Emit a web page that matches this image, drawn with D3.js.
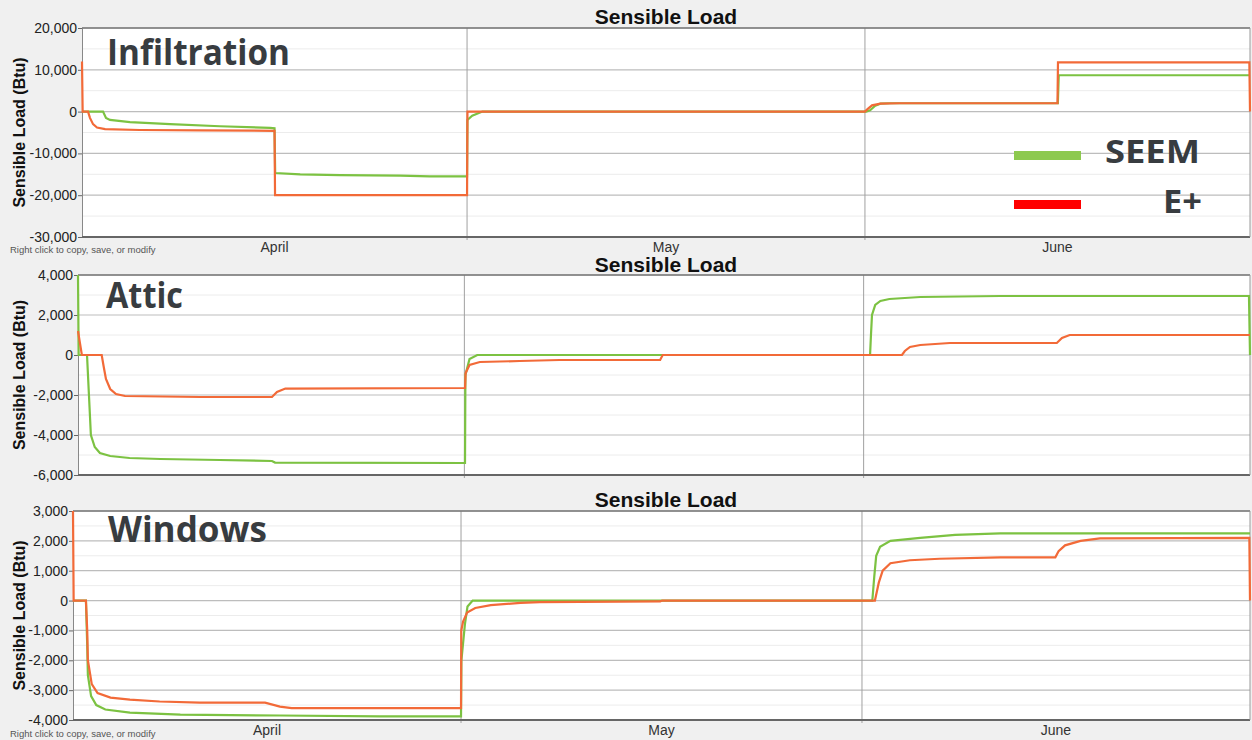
<!DOCTYPE html>
<html>
<head>
<meta charset="utf-8">
<script src="https://cdn.jsdelivr.net/npm/d3@7"></script>
<style>
  html, body { margin: 0; padding: 0; background: #f0f0f0; }
  svg { display: block; }
</style>
</head>
<body>
<svg id="chart" width="1252" height="740"></svg>
<script>
// ---------- DATA (x = days since April 1, y = Btu) ----------
const months = ["April", "May", "June"];
const monthDays = [30, 31, 30];
const panelNames = ["Infiltration", "Attic", "Windows"];
const seriesNames = ["SEEM", "E+"];

const infTicks = [20000, 10000, 0, -10000, -20000, -30000];
const atticTicks = [4000, 2000, 0, -2000, -4000, -6000];
const winTicks = [3000, 2000, 1000, 0, -1000, -2000, -3000, -4000];

const infSeem = [[0,0],[1.64,0],[1.87,-1500],[2.18,-2000],[3.74,-2500],[6.86,-3000],[10.75,-3500],[14.65,-3900],[15.0,-4000],
  [15.05,-14700],[17.0,-15000],[20.1,-15200],[24.8,-15300],[27.1,-15500],[30.0,-15500],[30.03,-2000],[30.4,-1000],[31.2,0],
  [61.1,0],[61.4,300],[61.8,1400],[62.2,1900],[63.0,2000],[76.03,2000],[76.1,8700],[91,8700]];
const infEplus = [[0,12000],[0.05,0],[0.47,0],[0.62,-1500],[0.86,-3000],[1.17,-3800],[1.8,-4200],[4.5,-4400],[9.2,-4500],[15.0,-4600],
  [15.04,-20000],[30.0,-20000],[30.03,0],[61.0,0],[61.2,600],[61.55,1500],[62.2,1900],[63.7,2000],[76.0,2000],[76.04,11800],
  [90.95,11800],[91,0]];

const atticSeem = [[0,4000],[0.05,0],[0.7,0],[0.85,-2000],[1.0,-4000],[1.3,-4600],[1.7,-4900],[2.5,-5050],[4.0,-5150],[6.4,-5200],
  [11.0,-5250],[15.06,-5300],[15.3,-5380],[30.05,-5400],[30.08,-1000],[30.4,-200],[31.0,0],[61.5,0],[61.57,1000],[61.65,2000],
  [61.9,2500],[62.3,2700],[63.0,2800],[65.4,2900],[71.6,2950],[90.92,2950],[91,0]];
const atticEplus = [[0,1200],[0.15,600],[0.3,0],[1.84,0],[2.0,-600],[2.17,-1200],[2.5,-1700],[2.95,-1950],[3.65,-2050],[9.5,-2100],
  [15.06,-2100],[15.45,-1850],[16.1,-1680],[30.05,-1650],[30.1,-900],[30.4,-500],[31.2,-350],[34.3,-300],[37.4,-250],[45.2,-250],
  [45.4,0],[63.98,0],[64.2,200],[64.6,400],[65.4,500],[67.7,600],[76.0,600],[76.4,850],[77.0,1000],[91,1000]];

const winSeem = [[0,0],[1.0,0],[1.1,-1500],[1.15,-2500],[1.4,-3200],[1.8,-3500],[2.5,-3650],[4.4,-3750],[8.3,-3820],[16.0,-3850],
  [23.7,-3880],[30.0,-3880],[30.03,-2000],[30.3,-800],[30.5,-200],[30.9,0],[61.8,0],[61.95,800],[62.1,1500],[62.4,1800],
  [63.2,2000],[65.5,2100],[68.2,2200],[71.7,2250],[91,2250]];
const winEplus = [[0,3000],[0.05,0],[1.0,0],[1.1,-1000],[1.15,-2000],[1.45,-2800],[1.9,-3100],[2.9,-3250],[4.4,-3320],[6.7,-3380],
  [9.8,-3420],[14.85,-3420],[16.0,-3550],[16.9,-3600],[30.0,-3600],[30.02,-1000],[30.16,-700],[30.47,-400],[31.1,-250],[32.3,-150],
  [34.6,-80],[36.1,-50],[45.4,-30],[45.55,0],[62.0,0],[62.3,600],[62.6,1000],[63.2,1250],[64.7,1350],[67.0,1400],[71.7,1450],
  [75.95,1450],[76.2,1650],[76.7,1850],[77.9,2000],[79.4,2080],[90.95,2100],[91,0]];

// ---------- LAYOUT ----------
const panels = [
  { name: panelNames[0], ticks: infTicks, minorStep: 5000, seem: infSeem, eplus: infEplus,
    left: 82, right: 1250, top: 28, bottom: 237, titleY: 24, labelX: 107, labelY: 65, monthY: 252, note: 253, showMonths: true, legend: true },
  { name: panelNames[1], ticks: atticTicks, minorStep: 1000, seem: atticSeem, eplus: atticEplus,
    left: 78, right: 1250, top: 275, bottom: 475, titleY: 272, labelX: 106, labelY: 308, monthY: null, note: null, showMonths: false },
  { name: panelNames[2], ticks: winTicks, minorStep: 500, seem: winSeem, eplus: winEplus,
    left: 73, right: 1250, top: 511, bottom: 720, titleY: 507, labelX: 108, labelY: 542, monthY: 735, note: 737, showMonths: true }
];
const labelWidths = [183, 77, 159];

const colSeem = "#7cc242", colEplus = "#f26a38";
const font = "Arial, 'Liberation Sans', sans-serif";
const svg = d3.select("#chart");
svg.append("rect").attr("width", 1252).attr("height", 740).attr("fill", "#f0f0f0");

const totalDays = d3.sum(monthDays);
const monthStarts = d3.cumsum([0].concat(monthDays)).slice(0, 3);

panels.forEach((p, pi) => {
  const x = d3.scaleLinear().domain([0, totalDays]).range([p.left, p.right]);
  const y = d3.scaleLinear().domain([d3.min(p.ticks), d3.max(p.ticks)]).range([p.bottom, p.top]);
  const g = svg.append("g");

  g.append("rect").attr("x", p.left).attr("y", p.top).attr("width", p.right - p.left)
    .attr("height", p.bottom - p.top).attr("fill", "#ffffff");

  // minor grid
  const minor = d3.range(d3.min(p.ticks), d3.max(p.ticks) + 1, p.minorStep).filter(v => !p.ticks.includes(v));
  g.selectAll(".minor").data(minor).join("line")
    .attr("x1", p.left).attr("x2", p.right).attr("y1", d => y(d)).attr("y2", d => y(d))
    .attr("stroke", "#ececec").attr("stroke-width", 1);
  // major grid
  g.selectAll(".major").data(p.ticks).join("line")
    .attr("x1", p.left).attr("x2", p.right).attr("y1", d => y(d)).attr("y2", d => y(d))
    .attr("stroke", "#bdbdbd").attr("stroke-width", 1.2);
  // month boundaries
  g.selectAll(".mline").data(monthStarts.slice(1)).join("line")
    .attr("x1", d => x(d)).attr("x2", d => x(d)).attr("y1", p.top).attr("y2", p.bottom + 3)
    .attr("stroke", "#a0a0a0").attr("stroke-width", 1);

  // y axis
  const yAxis = d3.axisLeft(y).tickValues(p.ticks).tickSize(4).tickPadding(1)
    .tickFormat(d => d.toLocaleString("en-US"));
  const ya = g.append("g").attr("transform", `translate(${p.left},0)`).call(yAxis);
  ya.select(".domain").attr("stroke", "#888");
  ya.selectAll(".tick line").attr("stroke", "#666");
  ya.selectAll("text").attr("font-family", font).attr("font-size", 14).attr("fill", "#222");

  // frame
  g.append("line").attr("x1", p.left).attr("x2", p.right).attr("y1", p.top).attr("y2", p.top)
    .attr("stroke", "#777").attr("stroke-width", 1.5);
  g.append("line").attr("x1", p.left).attr("x2", p.right).attr("y1", p.bottom).attr("y2", p.bottom)
    .attr("stroke", "#666").attr("stroke-width", 2);
  g.append("line").attr("x1", p.right).attr("x2", p.right).attr("y1", p.top).attr("y2", p.bottom)
    .attr("stroke", "#999").attr("stroke-width", 1);

  // series
  const line = d3.line().x(d => x(d[0])).y(d => y(d[1]));
  g.append("path").datum(p.seem).attr("d", line).attr("fill", "none")
    .attr("stroke", colSeem).attr("stroke-width", 2.2);
  g.append("path").datum(p.eplus).attr("d", line).attr("fill", "none")
    .attr("stroke", colEplus).attr("stroke-width", 2.2);

  // title
  g.append("text").attr("x", 666).attr("y", p.titleY).attr("text-anchor", "middle")
    .attr("font-family", font).attr("font-weight", "bold")
    .attr("font-size", 21).attr("fill", "#111").text("Sensible Load");

  // y axis title
  g.append("text").attr("transform", `translate(25,${(p.top + p.bottom) / 2}) rotate(-90)`)
    .attr("text-anchor", "middle").attr("font-family", font)
    .attr("font-weight", "bold").attr("font-size", 16).attr("fill", "#111").text("Sensible Load (Btu)");

  // panel label
  g.append("text").attr("x", p.labelX).attr("y", p.labelY)
    .attr("font-family", "'Open Sans', 'Noto Sans', sans-serif").attr("font-weight", "bold")
    .attr("font-size", 35).attr("fill", "#383c40")
    .attr("textLength", labelWidths[pi]).attr("lengthAdjust", "spacingAndGlyphs").text(p.name);

  // months
  if (p.showMonths) {
    g.selectAll(".month").data(months).join("text")
      .attr("x", (d, i) => x(monthStarts[i] + monthDays[i] / 2)).attr("y", p.monthY)
      .attr("text-anchor", "middle").attr("font-family", font)
      .attr("font-size", 14).attr("fill", "#333").text(d => d);
  }
  if (p.note) {
    g.append("text").attr("x", 10).attr("y", p.note)
      .attr("font-family", font).attr("font-size", 9.5)
      .attr("fill", "#555").text("Right click to copy, save, or modify");
  }

  // legend
  if (p.legend) {
    const lg = g.append("g");
    const items = [{ n: seriesNames[0], c: "#8dc94f", yc: 155.5, tx: 1105, ty: 163, w: 95 },
                   { n: seriesNames[1], c: "#ff0000", yc: 204.5, tx: 1163, ty: 213, w: 39 }];
    items.forEach(it => {
      lg.append("rect").attr("x", 1014).attr("y", it.yc - 4.5).attr("width", 67).attr("height", 9).attr("fill", it.c);
      lg.append("text").attr("x", it.tx).attr("y", it.ty)
        .attr("font-family", "'Open Sans', 'Noto Sans', sans-serif").attr("font-weight", "bold")
        .attr("font-size", 33).attr("fill", "#383c40")
        .attr("textLength", it.w).attr("lengthAdjust", "spacingAndGlyphs").text(it.n);
    });
  }
});
</script>
</body>
</html>
